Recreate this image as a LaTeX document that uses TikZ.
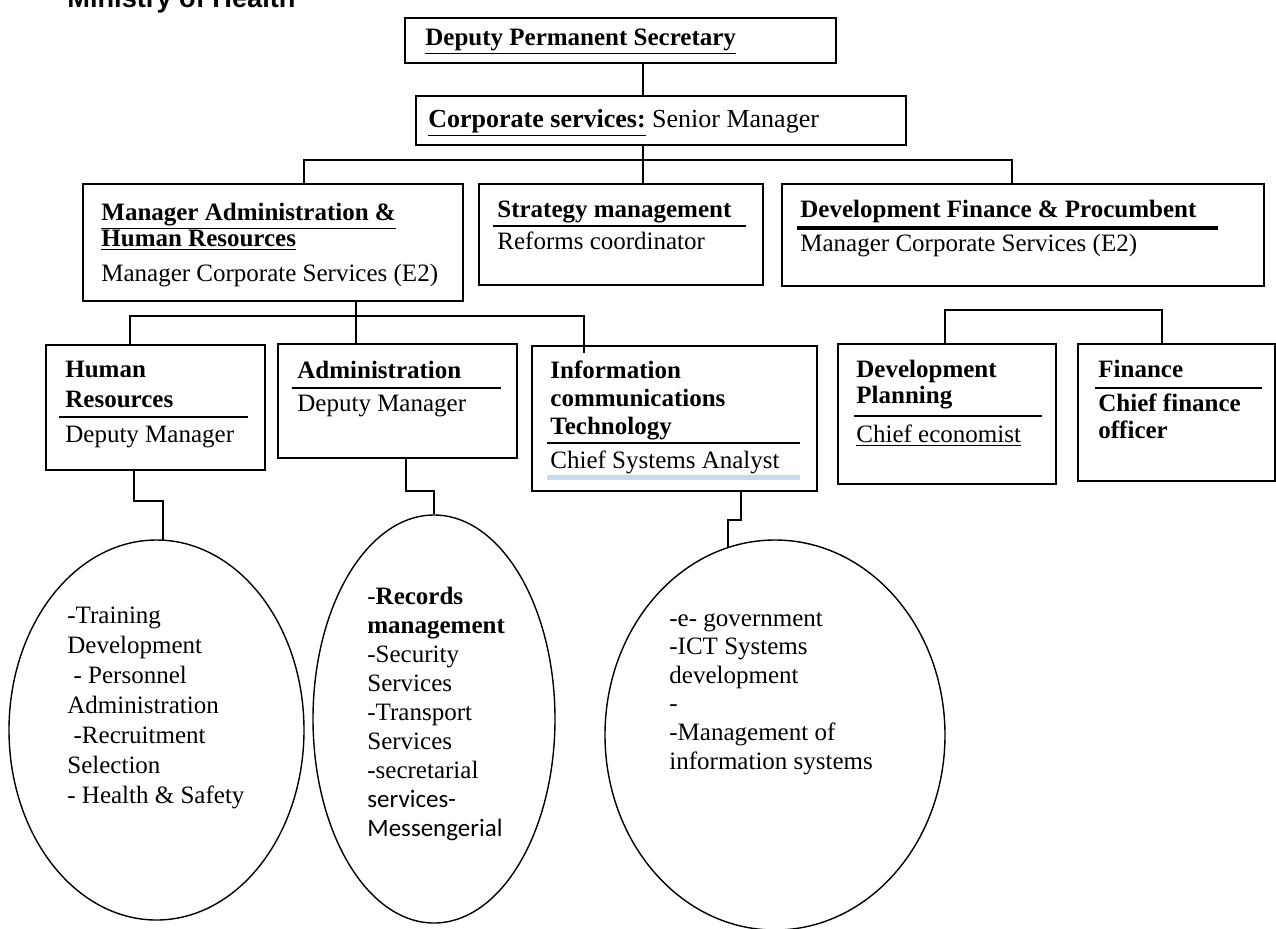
\documentclass[tikz,border=0pt]{standalone}
\usepackage{fontspec}
\setmainfont{Liberation Serif}
\newfontfamily\arialfont{Liberation Sans}
\newfontfamily\calibrifont{Carlito}
\usetikzlibrary{shapes.geometric,calc}
\definecolor{barblue}{RGB}{198,217,241}

\begin{document}
\begin{tikzpicture}[x=0.5pt, y=-0.5pt,
    box/.style={draw, line width=0.9pt, anchor=north west, inner sep=0pt},
    bubble/.style={draw, ellipse, line width=0.7pt, inner sep=0pt},
    txt/.style={anchor=base west, inner sep=0pt, align=left, font=\fontsize{12.5}{15}\selectfont},
    hrule/.style={line width=1.3pt},
    conn/.style={line width=0.75pt}]
    \useasboundingbox (0,0) rectangle (1276,928);

    % Boxes
    \node[box, minimum width=215.5pt, minimum height=22.5pt] at (404,17) (dps) {};
    \node[box, minimum width=245pt, minimum height=24.5pt] at (415,95) (corp) {};
    \node[box, minimum width=190pt, minimum height=58.5pt] at (82,183) (ma) {};
    \node[box, minimum width=142pt, minimum height=50.5pt] at (478,183) (strat) {};
    \node[box, minimum width=241pt, minimum height=51pt] at (781,183) (devfin) {};
    \node[box, minimum width=109.5pt, minimum height=62.5pt] at (45,344) (hr) {};
    \node[box, minimum width=119.5pt, minimum height=57pt] at (277,343) (adm) {};
    \node[box, minimum width=142.5pt, minimum height=72.5pt] at (531,345) (ict) {};
    \node[box, minimum width=109pt, minimum height=70pt] at (837,343) (dplan) {};
    \node[box, minimum width=98.5pt, minimum height=68.5pt] at (1077,343) (fin) {};

    % Ellipses
    \node[bubble, minimum width=147.5pt, minimum height=190pt] at (156.5,730) (ell1) {};
    \node[bubble, minimum width=121pt, minimum height=204pt] at (434,719) (ell2) {};
    \node[bubble, minimum width=170pt, minimum height=195pt] at (775,735) (ell3) {};

    % Texts (multi-line ones sit on their last baseline)
    \node[txt, font=\arialfont\bfseries\fontsize{13.6}{16}\selectfont] at (67,7) (title) {Ministry of Health};
    \node[txt] at (425,45) (dpsT) {\textbf{\underline{Deputy Permanent Secretary}}};
    \node[txt, font=\fontsize{13}{15}\selectfont] at (428,127) (corpT) {\textbf{\underline{Corporate services:}} Senior Manager};
    \node[txt] at (101,246) (maT) {\textbf{\underline{Manager Administration \&}}\\[-2pt]\textbf{\underline{Human Resources}}};
    \node[txt] at (101,281) (maR) {Manager Corporate Services (E2)};
    \node[txt] at (497,217) (stratT) {\textbf{Strategy management}};
    \node[txt] at (497,249) (stratR) {Reforms coordinator};
    \node[txt] at (800,217) (devfinT) {\textbf{Development Finance \& Procumbent}};
    \node[txt] at (800,251) (devfinR) {Manager Corporate Services (E2)};
    \node[txt] at (65,407) (hrT) {\textbf{Human}\\\textbf{Resources}};
    \node[txt] at (65,442) (hrR) {Deputy Manager};
    \node[txt] at (297,378) (admT) {\textbf{Administration}};
    \node[txt] at (297,411) (admR) {Deputy Manager};
    \node[txt] at (550,434) (ictT) {\textbf{Information}\\[-1pt]\textbf{communications}\\[-1pt]\textbf{Technology}};
    \node[txt] at (550,468) (ictR) {\underline{Chief Systems Analyst}};
    \node[txt] at (856,403) (dplanT) {\textbf{Development}\\[-2pt]\textbf{Planning}};
    \node[txt] at (856,442) (dplanR) {\underline{Chief economist}};
    \node[txt] at (1098,377) (finT) {\textbf{Finance}};
    \node[txt] at (1098,438) (finR) {\textbf{Chief finance}\\[-1.5pt]\textbf{officer}};

    \node[txt] at (67,803) (ell1T) {-Training\\Development\\\ - Personnel\\Administration\\\ -Recruitment\\Selection\\- Health \& Safety};
    \node[txt, font=\fontsize{12.5}{14.5}\selectfont] at (367,836) (ell2T) {-\textbf{Records}\\\textbf{management}\\-Security\\Services\\-Transport\\Services\\-secretarial\\{\calibrifont services-}\\{\calibrifont Messengerial}};
    \node[txt, font=\fontsize{12.5}{14.3}\selectfont] at (669,769) (ell3T) {-e- government\\-ICT Systems\\development\\-\\-Management of\\information systems};

    % Heading rules
    \draw[hrule] (493,226) -- (746,226);
    \draw[hrule, line width=1.6pt] (797,228) -- (1218,228);
    \draw[hrule] (59,417) -- (248,417);
    \draw[hrule] (292,388) -- (501,388);
    \draw[hrule] (547,443) -- (800,443);
    \draw[barblue, line width=2.5pt] (547,477) -- (800,477);
    \draw[hrule] (854,416) -- (1042,416);
    \draw[hrule] (1095,388) -- (1262,388);

    % Connectors
    \coordinate (j0) at (643,160);
    \coordinate (jL) at (304,160);
    \coordinate (jR) at (1012,160);
    \draw[conn] (dps.south -| j0) -- (corp.north -| j0);
    \draw[conn] (corp.south -| j0) -- (strat.north -| j0);
    \draw[conn] (ma.north -| jL) -- (jL) -- (jR) -- (devfin.north -| jR);

    \coordinate (kL) at (130,316);
    \coordinate (kM) at (356,316);
    \coordinate (kR) at (584,316);
    \draw[conn] (ma.south -| kM) -- (adm.north -| kM);
    \draw[conn] (hr.north -| kL) -- (kL) -- (kR) -- ($(ict.north -| kR)+(0,8)$);

    \coordinate (mL) at (945,310);
    \coordinate (mR) at (1162,310);
    \draw[conn] (dplan.north -| mL) -- (mL) -- (mR) -- (fin.north -| mR);

    \coordinate (hrK) at (134,501);
    \coordinate (admK) at (406,491);
    \coordinate (ictK) at (741,520);
    \draw[conn] (hr.south -| hrK) -- (hrK) -| (ell1.88);
    \draw[conn] (adm.south -| admK) -- (admK) -| (ell2.north);
    \draw[conn] (ict.south -| ictK) -- (ictK) -| (ell3.104);

  \end{tikzpicture}
\end{document}
